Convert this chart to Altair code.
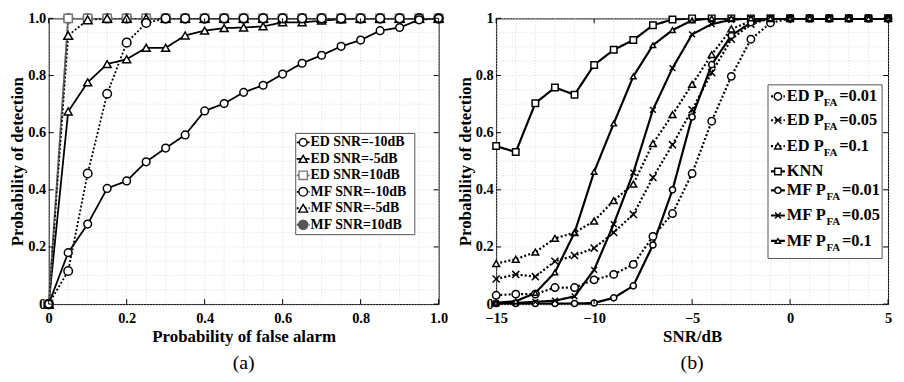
import altair as alt
import pandas as pd

# ---------------- data ----------------
far = [0.0, 0.05, 0.1, 0.15, 0.2, 0.25, 0.3, 0.35, 0.4, 0.45, 0.5,
       0.55, 0.6, 0.65, 0.7, 0.75, 0.8, 0.85, 0.9, 0.95, 1.0]
ed_m10 = [0, 0.18, 0.28, 0.405, 0.431, 0.498, 0.546, 0.592, 0.676, 0.702, 0.741,
          0.766, 0.805, 0.843, 0.871, 0.902, 0.924, 0.957, 0.968, 0.995, 1.0]
ed_m5 = [0, 0.674, 0.776, 0.84, 0.857, 0.897, 0.897, 0.94, 0.957, 0.966, 0.968,
         0.972, 0.986, 0.986, 0.992, 0.997, 1, 1, 1, 1, 1]
ed_10 = [0, 1, 1, 1, 1, 1, 1, 1, 1, 1, 1, 1, 1, 1, 1, 1, 1, 1, 1, 1, 1]
mf_m10 = [0, 0.116, 0.457, 0.736, 0.915, 0.984, 1, 1, 1, 1, 1,
          1, 1, 1, 1, 1, 1, 1, 1, 1, 1]
mf_m5 = [0, 0.94, 0.995, 1, 1, 1, 1, 1, 1, 1, 1, 1, 1, 1, 1, 1, 1, 1, 1, 1, 1]
mf_10 = [0, 1, 1, 1, 1, 1, 1, 1, 1, 1, 1, 1, 1, 1, 1, 1, 1, 1, 1, 1, 1]
left_series = ["ED SNR=-10dB", "ED SNR=-5dB", "ED SNR=10dB",
               "MF SNR=-10dB", "MF SNR=-5dB", "MF SNR=10dB"]
left_values = [ed_m10, ed_m5, ed_10, mf_m10, mf_m5, mf_10]

snr = [-15, -14, -13, -12, -11, -10, -9, -8, -7, -6, -5,
       -4, -3, -2, -1, 0, 1, 2, 3, 4, 5]
ed_001 = [0.031, 0.035, 0.035, 0.058, 0.058, 0.085, 0.104, 0.139, 0.237, 0.317, 0.457,
          0.64, 0.797, 0.927, 0.984, 1, 1, 1, 1, 1, 1]
ed_005 = [0.088, 0.104, 0.096, 0.15, 0.17, 0.196, 0.251, 0.314, 0.443, 0.558, 0.68,
          0.81, 0.927, 0.98, 1, 1, 1, 1, 1, 1, 1]
ed_01 = [0.142, 0.157, 0.182, 0.23, 0.25, 0.291, 0.362, 0.42, 0.562, 0.663, 0.769,
         0.873, 0.963, 0.99, 1, 1, 1, 1, 1, 1, 1]
knn = [0.553, 0.532, 0.703, 0.758, 0.733, 0.837, 0.89, 0.924, 0.976, 0.996, 1,
       1, 1, 1, 1, 1, 1, 1, 1, 1, 1]
mf_001 = [0.002, 0.002, 0.002, 0.002, 0.002, 0.004, 0.022, 0.064, 0.207, 0.40, 0.655,
          0.838, 0.94, 0.985, 1, 1, 1, 1, 1, 1, 1]
mf_005 = [0.002, 0.004, 0.008, 0.012, 0.027, 0.12, 0.28, 0.46, 0.68, 0.826, 0.944,
          0.98, 0.995, 1, 1, 1, 1, 1, 1, 1, 1]
mf_01 = [0.005, 0.01, 0.039, 0.111, 0.25, 0.463, 0.632, 0.797, 0.906, 0.959, 0.993,
         1, 1, 1, 1, 1, 1, 1, 1, 1, 1]
right_series = ["ED 0.01", "ED 0.05", "ED 0.1", "KNN", "MF 0.01", "MF 0.05", "MF 0.1"]
right_values = [ed_001, ed_005, ed_01, knn, mf_001, mf_005, mf_01]
right_prefix = ["ED P", "ED P", "ED P", "KNN", "MF P", "MF P", "MF P"]
right_sub = ["FA", "FA", "FA", "", "FA", "FA", "FA"]
right_rest = ["=0.01", "=0.05", "=0.1", "", "=0.01", "=0.05", "=0.1"]

left_ticks = [0, 0.2, 0.4, 0.6, 0.8, 1.0]
right_xticks = [-15, -10, -5, 0, 5]
right_yticks = [0, 0.2, 0.4, 0.6, 0.8, 1.0]

# ---------------- styles / layout ----------------
FONT = "Liberation Serif"
W1, W2, H = 393, 395, 288
XSHAPE = "M-1,-1L1,1M-1,1L1,-1"

left_style = dict(
    dash=[[1, 0], [1, 0], [1, 0], [2, 2], [2, 2], [1.5, 1.5]],
    width=[1.8, 1.8, 1.0, 1.8, 1.2, 1.0],
    color=["black", "black", "#777777", "black", "black", "#555555"],
    shape=["circle", "triangle-up", "square", "circle", "triangle-up", "circle"],
    size=[60, 85, 45, 60, 75, 6],
    fill=["white", "white", "white", "white", "white", "#555555"],
    z=[5, 3, 1, 4, 2, 0],
)
right_style = dict(
    dash=[[2, 2.2], [2, 2.2], [2, 2.2], [1, 0], [1, 0], [1, 0], [1, 0]],
    width=[2.2, 2.2, 2.2, 1.5, 1.6, 1.6, 1.6],
    color=["black"] * 7,
    shape=["circle", XSHAPE, "triangle-up", "square", "circle", XSHAPE, "triangle-up"],
    size=[55, 30, 90, 45, 60, 30, 95],
    fill=["white"] * 7,
    z=[0, 1, 2, 3, 4, 5, 6],
)


def enc_scales(series, st):
    return dict(
        strokeDash=alt.StrokeDash("s:N", scale=alt.Scale(domain=series, range=st["dash"]), legend=None),
        strokeWidth=alt.StrokeWidth("s:N", scale=alt.Scale(domain=series, range=st["width"]), legend=None),
        stroke=alt.Stroke("s:N", scale=alt.Scale(domain=series, range=st["color"]), legend=None),
    )


def pt_scales(series, st):
    return dict(
        shape=alt.Shape("s:N", scale=alt.Scale(domain=series, range=st["shape"]), legend=None),
        size=alt.Size("s:N", scale=alt.Scale(domain=series, range=st["size"]), legend=None),
        fill=alt.Fill("s:N", scale=alt.Scale(domain=series, range=st["fill"]), legend=None),
        stroke=alt.Stroke("s:N", scale=alt.Scale(domain=series, range=st["color"]), legend=None),
    )


def label_expr(kind):
    if kind == "left":
        return "datum.value == 0 ? '0' : format(datum.value, '.1f')"
    if kind == "righty":
        return "(datum.value == 0 || datum.value == 1) ? format(datum.value, 'd') : format(datum.value, '.1f')"
    return "format(datum.value, 'd')"


def make_axis(title, values, kind, pad, tpad):
    return alt.Axis(title=title, values=values, labelExpr=label_expr(kind), grid=False,
                    ticks=False, domain=False, labelOverlap=False, labelFlush=False,
                    labelPadding=pad, titlePadding=tpad)


GRID = dict(stroke="#d4d4d4", strokeDash=[1, 2], strokeWidth=0.8)


def panel(series, values_list, xs, st, W, xdom, xgrid, ygrid, xtitle, xkind, ykind,
          xticks, yticks, legend_layers, caption):
    zmap = dict(zip(series, st["z"]))
    df = pd.DataFrame([{"x": x, "y": v, "s": s, "z": zmap[s]} for s, vals in zip(series, values_list)
                       for x, v in zip(xs, vals)])
    xsc = alt.Scale(domain=xdom, nice=False, zero=False)
    ysc = alt.Scale(domain=[0, 1], nice=False)
    gx = alt.Chart(pd.DataFrame({"x": xgrid})).mark_rule(**GRID).encode(
        x=alt.X("x:Q", scale=xsc, axis=make_axis(xtitle, xticks, xkind, 8, 3)))
    gy = alt.Chart(pd.DataFrame({"y": ygrid})).mark_rule(**GRID).encode(
        y=alt.Y("y:Q", scale=ysc, axis=make_axis("Probability of detection", yticks, ykind, 3, 1)))
    base = alt.Chart(df)
    lines = base.mark_line(clip=True).encode(
        x="x:Q", y="y:Q", **enc_scales(series, st))
    pts = base.mark_point(filled=True, opacity=1, strokeWidth=1.5).encode(
        x="x:Q", y="y:Q", order=alt.Order("z:Q"), **pt_scales(series, st))

    tdx = pd.DataFrame({"x": xticks})
    tdy = pd.DataFrame({"y": yticks})
    tk = dict(color="black", strokeWidth=1)
    t_bot = alt.Chart(tdx).mark_rule(**tk).encode(x="x:Q", y=alt.value(H), y2=alt.value(H - 5))
    t_top = alt.Chart(tdx).mark_rule(**tk).encode(x="x:Q", y=alt.value(0), y2=alt.value(5))
    t_l = alt.Chart(tdy).mark_rule(**tk).encode(y="y:Q", x=alt.value(0), x2=alt.value(5))
    t_r = alt.Chart(tdy).mark_rule(**tk).encode(y="y:Q", x=alt.value(W), x2=alt.value(W - 5))

    return alt.layer(gx, gy, lines, pts, *legend_layers, t_bot, t_top, t_l, t_r).properties(
        width=W, height=H,
        title=alt.TitleParams(caption, orient="bottom", anchor="middle", frame="group",
                              font=FONT, fontSize=20, fontWeight="normal", offset=9, color="black"),
    )


def px2x(px, W, dom):
    return dom[0] + px / W * (dom[1] - dom[0])


def py2y(py):
    return 1 - py / H


def legend_layers(series, st, W, dom, box, rows, line_px, mark_px, text_px, texts):
    box_layer = alt.Chart(alt.Data(values=[{}])).mark_rect(
        fill="white", stroke="#555555", strokeWidth=1).encode(
        x=alt.value(box[0]), x2=alt.value(box[1]), y=alt.value(box[2]), y2=alt.value(box[3]))
    ldf = pd.DataFrame({"s": series, "x": [px2x(line_px[0], W, dom)] * len(series),
                        "x2": [px2x(line_px[1], W, dom)] * len(series),
                        "y": [py2y(r) for r in rows]})
    lline = alt.Chart(ldf).mark_rule().encode(x="x:Q", x2="x2:Q", y="y:Q", **enc_scales(series, st))
    mdf = pd.DataFrame({"s": series, "x": [px2x(mark_px, W, dom)] * len(series),
                        "y": [py2y(r) for r in rows]})
    lpts = alt.Chart(mdf).mark_point(filled=True, opacity=1, strokeWidth=1.4).encode(
        x="x:Q", y="y:Q", **pt_scales(series, st))
    layers = [box_layer, lline, lpts]
    for (tx, dy, fs, col) in texts:
        tdf = pd.DataFrame({"t": col,
                            "x": [px2x(text_px + o, W, dom) for o in tx],
                            "y": [py2y(r + dy) for r in rows]})
        layers.append(alt.Chart(tdf).mark_text(
            align="left", baseline="middle", font=FONT, fontWeight="bold",
            fontSize=fs, color="black").encode(x="x:Q", y="y:Q", text="t:N"))
    return layers


# left legend
lrows = [125 + 16.6 * i for i in range(6)]
left_leg = legend_layers(left_series, left_style, W1, [0, 1], (249, 369, 116, 218), lrows,
                         (250, 263), 256.5, 264,
                         [([0] * 6, 0, 14, left_series)])

# right legend
CW = {"E": 0.667, "D": 0.722, " ": 0.25, "P": 0.611, "M": 0.944, "F": 0.611, "A": 0.722,
      "K": 0.778, "N": 0.722}


def tw(s, fs):
    return sum(CW.get(c, 0.5) for c in s) * fs


rrows = [78.7, 102.7, 128.7, 154.3, 173.3, 198.7, 224.3]
sub_off = [tw(p, 16.5) for p in right_prefix]
rest_off = [tw(p, 16.5) + tw(s, 11) + 1 for p, s in zip(right_prefix, right_sub)]
right_leg = legend_layers(right_series, right_style, W2, [-15, 5], (274, 389, 67, 242), rrows,
                          (277, 291), 284, 293,
                          [([0] * 7, 0, 16.5, right_prefix),
                           (sub_off, 7, 11, right_sub),
                           (rest_off, 0, 16.5, right_rest)])

grid_left = [round(i * 0.05, 2) for i in range(21)]
grid_rx = list(range(-15, 6))

left = panel(left_series, left_values, far, left_style, W1, [0, 1], grid_left, grid_left,
             "Probability of false alarm", "left", "left", left_ticks, left_ticks, left_leg, "(a)")
right = panel(right_series, right_values, snr, right_style, W2, [-15, 5], grid_rx, grid_left,
              "SNR/dB", "rightx", "righty", right_xticks, right_yticks, right_leg, "(b)")

chart = alt.hconcat(left, right, spacing=7).resolve_scale(
    strokeDash="independent", strokeWidth="independent", stroke="independent",
    shape="independent", size="independent", fill="independent",
).properties(
    padding={"left": 0, "top": 0, "right": 0, "bottom": 0}
).configure_view(stroke="black", strokeWidth=1).configure_axis(
    labelFont=FONT, labelFontWeight="bold", labelFontSize=14.5, labelColor="black",
    titleFont=FONT, titleFontWeight="bold", titleFontSize=17, titleColor="black",
)

chart.save("out.html", embed_options={"renderer": "svg", "actions": False})
